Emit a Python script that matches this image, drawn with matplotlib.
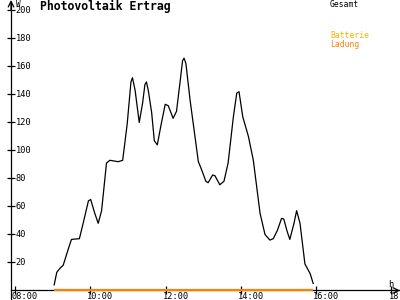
import numpy as np
import matplotlib
matplotlib.use("Agg")
import matplotlib.pyplot as plt

# Gesamt (W) ueber Uhrzeit (h)
t = [9.04, 9.11, 9.2, 9.28, 9.42, 9.5, 9.71, 9.81, 9.95, 10.01, 10.12, 10.21, 10.3,
     10.43, 10.52, 10.74, 10.86, 10.98, 11.08, 11.12, 11.19, 11.3, 11.39, 11.45, 11.49,
     11.54, 11.63, 11.7, 11.78, 11.87, 11.99, 12.07, 12.2, 12.29, 12.38, 12.45, 12.49,
     12.54, 12.65, 12.78, 12.87, 12.96, 13.07, 13.13, 13.25, 13.31, 13.44, 13.55, 13.66,
     13.8, 13.89, 13.95, 14.05, 14.2, 14.33, 14.51, 14.64, 14.77, 14.86, 14.97, 15.08,
     15.14, 15.23, 15.3, 15.41, 15.48, 15.57, 15.7, 15.84, 15.92]
gesamt = [4, 13, 16, 18, 30, 36.5, 37, 48, 64, 65, 55, 48, 57,
          91, 93, 92, 93, 119, 149, 152, 143, 120, 134, 147, 149,
          143, 127, 107, 104, 117, 133, 132, 123, 128, 148, 164, 166,
          162, 136, 110, 92, 86, 78, 77, 82.5, 82, 75.5, 78, 91,
          124, 141, 142, 124, 110, 93, 55, 40, 36, 37, 43, 51.5,
          51, 42, 36.5, 48, 57, 48, 19, 12, 5]
ladung_t = [9.04, 15.92]
ladung = [0, 0]

x_ticks = [8, 10, 12, 14, 16, 18]
x_labels = ["08:00", "10:00", "12:00", "14:00", "16:00", "18:"]
y_ticks = [20, 40, 60, 80, 100, 120, 140, 160, 180, 200]

mono = "DejaVu Sans Mono"

fig = plt.figure(figsize=(4, 3), dpi=100)
ax = fig.add_axes([0, 0, 1, 1])
ax.set_xlim(7.6016, 18.2258)
ax.set_ylim(-6.8, 207.5)

ax.plot(t, gesamt, color="black", lw=0.9)
ax.plot(ladung_t, ladung, color="#ff8000", lw=1.6, solid_capstyle="butt", zorder=3)

for s in ["top", "right"]:
    ax.spines[s].set_visible(False)
ax.spines["left"].set_position(("data", 7.894))
ax.spines["bottom"].set_position(("data", 0))
ax.spines["left"].set_bounds(-6.8, 205)
ax.spines["bottom"].set_bounds(7.894, 18.2)
for s in ["left", "bottom"]:
    ax.spines[s].set_linewidth(0.9)

ax.set_xticks(x_ticks)
ax.set_yticks(y_ticks)
ax.tick_params(direction="inout", length=6, width=0.9, labelbottom=False, labelleft=False)

# Pfeile an den Achsen
ax.annotate("", xy=(7.894, 207.5), xytext=(7.894, 200),
            arrowprops=dict(arrowstyle="->", lw=0.9, color="black", shrinkA=0, shrinkB=0))
ax.annotate("", xy=(18.2258, 0), xytext=(18.0, 0),
            arrowprops=dict(arrowstyle="->", lw=0.9, color="black", shrinkA=0, shrinkB=0))

for v in y_ticks:
    ax.text(8.02, v, str(v), family=mono, fontsize=6.2, va="center", ha="left")
for x, lab in zip(x_ticks, x_labels):
    ax.text(x - 0.08, -4.3, lab, family=mono, fontsize=6.2, va="center", ha="left")

ax.text(8.02, 207.5, "W", family=mono, fontsize=5.5, va="top", ha="left")
ax.text(17.9, 4.6, "h", family=mono, fontsize=6.2, va="center", ha="left")

fig.text(0.1, 0.977, "Photovoltaik Ertrag", family=mono, fontsize=8.3,
         weight="bold", va="center", ha="left")
fig.text(0.825, 0.985, "Gesamt", family=mono, fontsize=5.8, va="center", ha="left")
fig.text(0.825, 0.88, "Batterie", family=mono, fontsize=5.8, color="#ffb000",
         va="center", ha="left")
fig.text(0.825, 0.853, "Ladung", family=mono, fontsize=5.8, color="#ff8000",
         va="center", ha="left")

fig.savefig("out.png", dpi=100)
